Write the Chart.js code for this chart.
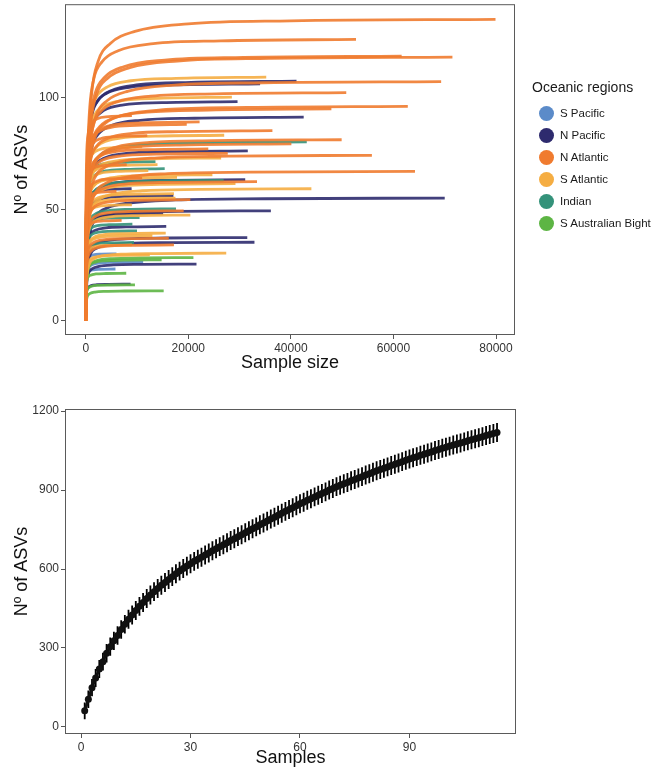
<!DOCTYPE html>
<html>
<head>
<meta charset="utf-8">
<script src="https://cdn.jsdelivr.net/npm/chart.js@4.4.0/dist/chart.umd.min.js"></script>
<style>
  html, body { margin: 0; padding: 0; background: #fff; }
  body { width: 658px; height: 770px; position: relative; overflow: hidden; font-family: "Liberation Sans", Arial, sans-serif; }
  #topBox { position: absolute; left: 0; top: -5px; width: 658px; height: 380px; }
  #bottomBox { position: absolute; left: 0; top: 375px; width: 658px; height: 395px; }
  #legend { position: absolute; left: 527px; top: 78px; color: #1a1a1a; }
  #legend .title { font-size: 14px; line-height: 18px; margin-bottom: 6px; margin-left: 5px; }
  #legend .item { height: 22px; display: flex; align-items: center; font-size: 11.5px; }
  #legend .dot { width: 15px; height: 15px; border-radius: 50%; margin: 0 6px 0 12px; }
</style>
</head>
<body>
<div id="topBox"><canvas id="rarefaction"></canvas></div>
<div id="bottomBox"><canvas id="accumulation"></canvas></div>
<div id="legend"></div>
<script>
// ---- top panel: rarefaction curves per sample ----
// levels = ASVs at the end of each curve, ends = sample size where it stops
const sPacificLevels = [30, 26.3, 23.2];
const sPacificEnds = [6000, 11200, 5800];

const nPacificLevels = [107.5, 106.3, 98.3, 91.3, 76.2, 63.3, 59.2, 56.1, 55.0, 49.3, 48.1, 42.3, 37.3, 35.2, 25.4, 16.4];
const nPacificEnds = [41100, 34000, 29600, 42500, 31600, 31100, 8950, 17100, 70000, 36100, 15100, 15700, 31500, 32900, 21600, 8750];

const nAtlanticLevels = [135.2, 126.2, 118.7, 118.3, 107.3, 102.3, 96.2, 95.0, 92, 89.2, 88.1, 85.3, 83, 81.2, 79.3, 77.1, 75.1, 74.2, 70, 67.0, 64, 62.4, 58, 54.3, 49.3, 45, 37.0, 34.0];
const nAtlanticEnds = [79900, 52700, 61600, 71500, 69300, 50800, 62800, 47900, 9000, 22200, 19700, 36400, 12000, 49900, 40100, 23900, 27700, 55800, 8000, 64200, 11000, 33400, 6000, 20400, 19100, 7000, 16200, 17200];

const sAtlanticLevels = [109.3, 100.3, 83.2, 78, 73.0, 70, 67.3, 65.5, 64.3, 61.5, 59.2, 57.0, 55.0, 52, 47.4, 39.3, 38.2, 34, 30.3, 29.5];
const sAtlanticEnds = [35200, 28500, 27000, 11000, 26400, 14000, 12200, 24700, 17800, 29200, 44000, 17200, 17500, 9000, 20400, 15600, 13000, 9000, 27400, 12500];

const indianLevels = [80.2, 71.4, 68.2, 63.0, 50.2, 46.3, 43.3, 40.3, 35.1];
const indianEnds = [43100, 13600, 15400, 26900, 17600, 10500, 9100, 10000, 9400];

const sabLevels = [28.3, 27.3, 21.3, 16.1, 13.4];
const sabEnds = [21000, 14800, 7900, 9600, 15200];

// common curve shape (share of end size -> share of final ASVs)
const shapeFrac = [0, 0.003, 0.008, 0.015, 0.03, 0.06, 0.12, 0.25, 0.5, 1];
const shapeRise = [0, 0.4, 0.62, 0.76, 0.86, 0.92, 0.96, 0.985, 0.995, 1];

const regionNames = ['S Pacific', 'N Pacific', 'N Atlantic', 'S Atlantic', 'Indian', 'S Australian Bight'];
const regionColors = ['#5b8bc9', '#2e2b6e', '#f07b2f', '#f5ad42', '#34927a', '#5db544'];
const sampleSizeTicks = [0, 20000, 40000, 60000, 80000];
const topAsvTicks = [0, 50, 100];

// ---- bottom panel: accumulation curve ----
const asvMean = [
  61, 105, 149, 186, 220, 248, 280, 305, 327, 347,
  370, 390, 409, 425, 442, 458, 473, 488, 501, 514,
  526, 538, 549, 560, 571, 582, 592, 602, 611, 620,
  629, 637, 645, 653, 661, 669, 677, 685, 692, 700,
  708, 715, 723, 730, 738, 745, 753, 760, 768, 775,
  782, 790, 797, 804, 812, 819, 826, 833, 840, 848,
  854, 861, 867, 874, 880, 887, 893, 900, 906, 913,
  918, 924, 929, 935, 940, 946, 951, 957, 962, 968,
  973, 978, 983, 988, 993, 998, 1003, 1008, 1013, 1018,
  1023, 1027, 1032, 1036, 1041, 1045, 1050, 1054, 1059, 1063,
  1067, 1071, 1075, 1079, 1083, 1087, 1091, 1095, 1099, 1103,
  1107, 1111, 1115, 1119
];
const asvSd = [
  32, 33, 33, 34, 34, 34, 35, 35, 35, 35,
  35, 35, 36, 36, 36, 36, 36, 36, 36, 36,
  36, 36, 36, 36, 36, 36, 36, 36, 36, 36,
  36, 36, 36, 36, 36, 36, 36, 36, 36, 36,
  36, 36, 36, 36, 36, 36, 36, 36, 36, 36,
  36, 36, 36, 36, 36, 36, 36, 36, 36, 36,
  36, 36, 36, 36, 36, 36, 36, 36, 36, 36,
  36, 36, 36, 36, 36, 36, 36, 36, 36, 36,
  36, 36, 36, 36, 36, 36, 36, 36, 36, 36,
  36, 36, 36, 36, 36, 36, 36, 36, 36, 36,
  36, 36, 36, 36, 36, 36, 36, 36, 36, 36,
  36, 36, 36, 36
];
const samplesTicks = [0, 30, 60, 90];
const bottomAsvTicks = [0, 300, 600, 900, 1200];

Chart.defaults.font.family = '"Liberation Sans", Arial, sans-serif';
Chart.defaults.animation = false;

// ggplot style panel border
const panelBox = {
  id: 'panelBox',
  afterDraw(chart) {
    const { ctx, chartArea: a } = chart;
    ctx.save();
    ctx.strokeStyle = '#5a5a5a';
    ctx.lineWidth = 1;
    ctx.strokeRect(a.left + 0.5, a.top + 0.5, a.right - a.left - 1, a.bottom - a.top - 1);
    ctx.restore();
  }
};

function makeAxis(min, max, tickValues, title, fit) {
  return {
    type: 'linear',
    min: min,
    max: max,
    afterBuildTicks: (scale) => { scale.ticks = tickValues.map(v => ({ value: v })); },
    afterFit: fit,
    grid: { display: true, drawOnChartArea: false, drawTicks: true, tickLength: 4, color: '#555' },
    border: { display: false },
    ticks: { color: '#333', font: { size: 12 }, padding: 2, maxRotation: 0, callback: v => String(v) },
    title: { display: true, text: title, color: '#111', font: { size: 18 }, padding: 1 }
  };
}

// build the rarefaction datasets
const regionLevels = [sPacificLevels, nPacificLevels, nAtlanticLevels, sAtlanticLevels, indianLevels, sabLevels];
const regionEnds = [sPacificEnds, nPacificEnds, nAtlanticEnds, sAtlanticEnds, indianEnds, sabEnds];
const regionOrder = [5, 4, 0, 1, 3, 2];
const curveSets = [];
regionLevels.forEach((levels, r) => {
  levels.forEach((level, i) => {
    const end = regionEnds[r][i];
    curveSets.push({
      label: regionNames[r],
      data: shapeFrac.map((f, k) => ({ x: f * end, y: level * shapeRise[k] })),
      borderColor: regionColors[r] + 'e6',
      borderWidth: 2.8,
      pointRadius: 0,
      cubicInterpolationMode: 'monotone',
      fill: false,
      order: regionOrder[r]
    });
  });
});

new Chart(document.getElementById('rarefaction'), {
  type: 'line',
  data: { datasets: curveSets },
  options: {
    responsive: true,
    maintainAspectRatio: false,
    layout: { padding: { top: 5, left: 10, right: 143, bottom: 0 } },
    plugins: { legend: { display: false }, tooltip: { enabled: false } },
    scales: {
      x: makeAxis(-4040, 83700, sampleSizeTicks, 'Sample size', s => { s.height = 40; }),
      y: makeAxis(-6.4, 142, topAsvTicks, 'Nº of ASVs', s => { s.width = 55; })
    }
  },
  plugins: [panelBox]
});

// html legend
const legendEl = document.getElementById('legend');
legendEl.innerHTML = '<div class="title">Oceanic regions</div>' +
  regionNames.map((name, i) =>
    `<div class="item"><span class="dot" style="background:${regionColors[i]}"></span>${name}</div>`
  ).join('');

// error bars for the accumulation curve
const errorBars = {
  id: 'errorBars',
  beforeDatasetsDraw(chart) {
    const { ctx } = chart;
    const xs = chart.scales.x, ys = chart.scales.y;
    ctx.save();
    ctx.strokeStyle = '#000';
    ctx.lineWidth = 1.8;
    ctx.beginPath();
    asvMean.forEach((v, i) => {
      const px = xs.getPixelForValue(i + 1);
      ctx.moveTo(px, ys.getPixelForValue(v - asvSd[i]));
      ctx.lineTo(px, ys.getPixelForValue(v + asvSd[i]));
    });
    ctx.stroke();
    ctx.restore();
  }
};

new Chart(document.getElementById('accumulation'), {
  type: 'line',
  data: {
    datasets: [{
      label: 'ASVs',
      data: asvMean.map((v, i) => ({ x: i + 1, y: v })),
      borderColor: '#111',
      backgroundColor: '#111',
      borderWidth: 3,
      pointRadius: 3.5,
      pointBorderWidth: 0,
      fill: false
    }]
  },
  options: {
    responsive: true,
    maintainAspectRatio: false,
    layout: { padding: { top: 34, left: 10, right: 142, bottom: 0 } },
    plugins: { legend: { display: false }, tooltip: { enabled: false } },
    scales: {
      x: makeAxis(-4.4, 119.2, samplesTicks, 'Samples', s => { s.height = 36; }),
      y: makeAxis(-27, 1208, bottomAsvTicks, 'Nº of ASVs', s => { s.width = 55; })
    }
  },
  plugins: [panelBox, errorBars]
});
</script>
</body>
</html>
